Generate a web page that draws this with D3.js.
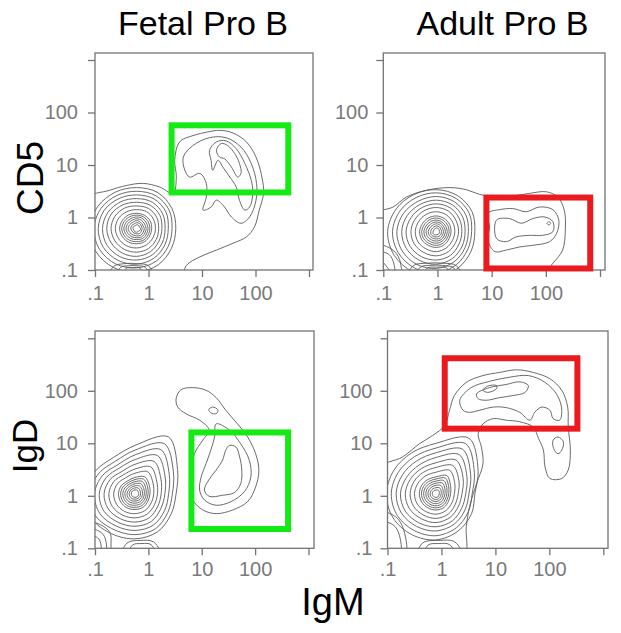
<!DOCTYPE html>
<html><head><meta charset="utf-8">
<script src="https://cdn.jsdelivr.net/npm/d3@7"></script>
<style>html,body{margin:0;padding:0;background:#fff}</style>
</head><body>
<svg id="chart" width="621" height="633"></svg>
<script>
// ================= DATA =================
const columnTitles = ["Fetal Pro B", "Adult Pro B"];
const rowMarkers = ["CD5", "IgD"];
const xMarker = "IgM";
const tickValues = [0.1, 1, 10, 100, 1000];
const tickLabels = [".1", "1", "10", "100", ""];

// gates per panel (order: Fetal CD5, Adult CD5, Fetal IgD, Adult IgD), raw units
const gateIgM    = [[2.7, 410], [8.0, 660], [6.4, 414], [1.15, 331]];
const gateMarker = [[3.0, 57], [0.107, 2.4], [0.233, 16.1], [19, 417]];

// main (IgM-) population: centre in log10 units, contour radii (decades) at 12 evenly spaced angles
const clusterCenter = [[-0.22, -0.21], [-0.02, -0.27], [-0.25, 0.04], [-0.10, 0.04]];
const ringsFetalCD5 = [
  [0.07,0.06,0.07,0.07,0.06,0.07,0.07,0.06,0.07,0.07,0.06,0.07],
  [0.10,0.10,0.11,0.11,0.10,0.11,0.11,0.10,0.10,0.10,0.11,0.10],
  [0.14,0.13,0.14,0.15,0.14,0.15,0.16,0.15,0.14,0.14,0.15,0.14],
  [0.175,0.17,0.18,0.185,0.18,0.19,0.20,0.19,0.18,0.175,0.185,0.175],
  [0.21,0.21,0.22,0.22,0.22,0.23,0.24,0.23,0.22,0.21,0.22,0.21],
  [0.245,0.25,0.255,0.255,0.26,0.27,0.28,0.27,0.26,0.25,0.255,0.245],
  [0.28,0.29,0.29,0.29,0.30,0.31,0.32,0.31,0.30,0.29,0.29,0.28],
  [0.35,0.36,0.37,0.36,0.37,0.39,0.40,0.39,0.38,0.37,0.36,0.35],
  [0.41,0.43,0.44,0.43,0.45,0.47,0.48,0.47,0.46,0.45,0.44,0.42],
  [0.47,0.50,0.51,0.50,0.52,0.55,0.56,0.55,0.54,0.53,0.51,0.48],
  [0.53,0.56,0.58,0.57,0.59,0.62,0.64,0.64,0.62,0.60,0.58,0.55],
  [0.59,0.63,0.65,0.64,0.66,0.70,0.72,0.72,0.70,0.68,0.65,0.61],
  [0.66,0.70,0.72,0.71,0.73,0.77,0.80,0.80,0.78,0.75,0.72,0.68],
  [0.73,0.76,0.79,0.78,0.80,0.84,0.88,0.88,0.86,0.83,0.80,0.75]
];
const ringsAdultCD5 = [
  [0.06,0.06,0.07,0.07,0.06,0.06,0.06,0.07,0.07,0.06,0.06,0.06],
  [0.095,0.095,0.105,0.11,0.10,0.10,0.105,0.11,0.105,0.10,0.10,0.095],
  [0.13,0.13,0.14,0.15,0.14,0.14,0.15,0.15,0.14,0.14,0.14,0.13],
  [0.165,0.165,0.175,0.185,0.18,0.18,0.19,0.19,0.18,0.18,0.175,0.165],
  [0.20,0.20,0.21,0.22,0.22,0.22,0.23,0.23,0.22,0.22,0.21,0.20],
  [0.235,0.24,0.25,0.26,0.26,0.26,0.27,0.27,0.26,0.26,0.25,0.235],
  [0.27,0.28,0.29,0.30,0.30,0.30,0.31,0.31,0.30,0.30,0.29,0.27],
  [0.34,0.35,0.37,0.38,0.38,0.38,0.39,0.39,0.38,0.38,0.36,0.34],
  [0.41,0.42,0.45,0.46,0.46,0.46,0.47,0.47,0.46,0.46,0.44,0.41],
  [0.47,0.49,0.52,0.53,0.53,0.54,0.56,0.56,0.55,0.54,0.52,0.48],
  [0.53,0.56,0.59,0.60,0.60,0.62,0.64,0.64,0.63,0.62,0.59,0.55],
  [0.59,0.63,0.66,0.67,0.67,0.70,0.73,0.73,0.72,0.70,0.66,0.61],
  [0.65,0.70,0.73,0.74,0.75,0.78,0.81,0.81,0.80,0.78,0.73,0.67],
  [0.71,0.76,0.79,0.80,0.82,0.86,0.90,0.90,0.88,0.86,0.80,0.74]
];
const ringsFetalIgD = [
  [0.07,0.07,0.08,0.07,0.07,0.07,0.07,0.07,0.07,0.07,0.07,0.07],
  [0.105,0.11,0.125,0.11,0.105,0.105,0.11,0.11,0.11,0.105,0.105,0.105],
  [0.14,0.15,0.17,0.15,0.14,0.14,0.15,0.15,0.15,0.14,0.14,0.14],
  [0.175,0.19,0.22,0.19,0.175,0.18,0.19,0.19,0.19,0.18,0.18,0.175],
  [0.21,0.23,0.27,0.23,0.21,0.22,0.23,0.23,0.23,0.22,0.22,0.21],
  [0.245,0.27,0.32,0.27,0.245,0.26,0.27,0.27,0.27,0.26,0.26,0.245],
  [0.28,0.31,0.37,0.31,0.28,0.30,0.31,0.31,0.31,0.30,0.30,0.28],
  [0.35,0.39,0.48,0.39,0.35,0.38,0.40,0.40,0.39,0.38,0.37,0.35],
  [0.42,0.47,0.59,0.47,0.42,0.46,0.49,0.49,0.47,0.46,0.45,0.42],
  [0.49,0.56,0.71,0.56,0.49,0.54,0.58,0.58,0.55,0.54,0.53,0.49],
  [0.56,0.65,0.84,0.65,0.57,0.62,0.67,0.67,0.63,0.62,0.61,0.56],
  [0.63,0.74,0.97,0.74,0.64,0.70,0.76,0.76,0.71,0.70,0.69,0.64],
  [0.70,0.83,1.10,0.83,0.72,0.78,0.85,0.85,0.79,0.78,0.77,0.71],
  [0.77,0.92,1.25,0.92,0.80,0.86,0.94,0.94,0.88,0.86,0.84,0.78]
];
const ringsAdultIgD = [
  [0.06,0.07,0.08,0.07,0.07,0.07,0.07,0.07,0.07,0.07,0.07,0.06],
  [0.095,0.11,0.13,0.115,0.11,0.11,0.11,0.11,0.11,0.11,0.105,0.095],
  [0.13,0.15,0.18,0.16,0.15,0.15,0.15,0.15,0.15,0.15,0.14,0.13],
  [0.165,0.19,0.235,0.20,0.19,0.19,0.19,0.19,0.19,0.19,0.18,0.165],
  [0.20,0.23,0.29,0.24,0.23,0.23,0.23,0.23,0.23,0.23,0.22,0.20],
  [0.235,0.27,0.345,0.28,0.27,0.27,0.27,0.27,0.27,0.27,0.26,0.235],
  [0.27,0.31,0.40,0.32,0.31,0.31,0.31,0.31,0.31,0.31,0.30,0.27],
  [0.34,0.40,0.51,0.41,0.39,0.39,0.40,0.40,0.39,0.39,0.37,0.34],
  [0.41,0.49,0.62,0.50,0.47,0.47,0.48,0.48,0.47,0.47,0.45,0.41],
  [0.48,0.58,0.74,0.59,0.55,0.55,0.57,0.57,0.55,0.55,0.52,0.48],
  [0.55,0.66,0.86,0.69,0.63,0.63,0.66,0.66,0.64,0.63,0.60,0.55],
  [0.61,0.74,0.98,0.78,0.72,0.72,0.74,0.74,0.72,0.71,0.67,0.62],
  [0.67,0.82,1.10,0.87,0.81,0.81,0.83,0.83,0.81,0.80,0.75,0.69],
  [0.72,0.90,1.22,0.96,0.90,0.90,0.92,0.92,0.90,0.88,0.82,0.76]
];

// other contours, closed outlines as [log10 IgM, log10 marker] points
const contoursFetalCD5 = [
  [[-1.2,0.33],[-0.72,0.52],[-0.41,0.61],[-0.10,0.65],[0.21,0.58],[0.46,0.46],[0.52,0.77],[0.49,1.09],[0.58,1.44],[0.83,1.56],[1.11,1.63],[1.33,1.66],[1.58,1.61],[1.83,1.44],[2.01,1.15],[2.12,0.77],[2.15,0.46],[2.07,0.14],[1.98,-0.18],[1.83,-0.37],[1.58,-0.49],[1.27,-0.62],[0.96,-0.75],[0.71,-0.91],[0.58,-1.2],[-1.2,-1.2]],
  [[0.65,1.15],[0.83,1.37],[1.14,1.52],[1.45,1.52],[1.73,1.34],[1.92,1.03],[2.02,0.65],[2.01,0.33],[1.89,0.01],[1.73,-0.11],[1.55,0.01],[1.42,0.20],[1.27,0.33],[1.17,0.20],[1.02,0.14],[1.08,0.39],[1.08,0.65],[0.96,0.84],[0.77,0.77],[0.68,0.90]],
  [[1.14,1.28],[1.27,1.44],[1.45,1.46],[1.64,1.31],[1.80,1.03],[1.92,0.71],[1.95,0.46],[1.89,0.20],[1.80,0.14],[1.70,0.33],[1.64,0.58],[1.52,0.77],[1.39,0.96],[1.30,1.09],[1.20,0.90],[1.17,1.09]],
  [[1.27,1.28],[1.36,1.41],[1.48,1.37],[1.61,1.22],[1.70,1.03],[1.73,0.84],[1.67,0.77],[1.55,0.96],[1.42,1.12],[1.33,1.15]],
  [[-0.75,-1.2],[-0.65,-0.93],[-0.45,-0.88],[-0.2,-0.88],[0.0,-0.92],[0.1,-1.2]],
  [[-0.62,-1.2],[-0.52,-0.95],[-0.38,-0.92],[-0.2,-0.92],[-0.06,-0.95],[0.0,-1.2]],
  [[-0.5,-1.2],[-0.42,-0.97],[-0.3,-0.955],[-0.16,-0.965],[-0.1,-1.2]]
];
const contoursAdultCD5 = [
  [[-1.2,0.04],[-0.82,0.20],[-0.57,0.39],[-0.20,0.52],[0.23,0.57],[0.53,0.53],[0.78,0.44],[1.09,0.39],[1.39,0.41],[1.70,0.46],[2.01,0.49],[2.22,0.39],[2.34,0.14],[2.36,-0.24],[2.31,-0.62],[2.13,-0.87],[1.82,-1.2],[-1.2,-1.2]],
  [[0.93,0.08],[1.15,0.15],[1.39,0.17],[1.64,0.11],[1.88,0.20],[2.13,0.15],[2.24,-0.05],[2.20,-0.30],[2.07,-0.46],[1.76,-0.53],[1.52,-0.56],[1.27,-0.62],[1.06,-0.65],[0.93,-0.43],[0.96,-0.18]],
  [[1.09,-0.05],[1.33,-0.02],[1.55,-0.11],[1.76,-0.02],[1.98,0.01],[2.13,-0.08],[2.13,-0.27],[1.94,-0.34],[1.70,-0.34],[1.45,-0.37],[1.27,-0.46],[1.09,-0.40]],
  [[2.02,-0.11],[2.055,-0.08],[2.09,-0.11],[2.055,-0.14]],
  [[-0.55,-1.2],[-0.45,-0.92],[-0.2,-0.87],[0.1,-0.87],[0.35,-0.92],[0.45,-1.2]],
  [[-0.42,-1.2],[-0.32,-0.95],[-0.1,-0.91],[0.15,-0.92],[0.3,-0.96],[0.35,-1.2]],
  [[-0.3,-1.2],[-0.2,-0.97],[0.0,-0.945],[0.18,-0.97],[0.25,-1.2]],
  [[-1.2,-0.5],[-0.85,-0.6],[-0.7,-0.8],[-0.68,-1.2]],
  [[-1.2,-0.65],[-0.9,-0.7],[-0.8,-0.9],[-0.8,-1.2]]
];
const contoursFetalIgD = [
  [[0.52,1.85],[0.61,2.02],[0.83,2.06],[1.08,2.01],[1.27,1.87],[1.45,1.63],[1.67,1.37],[1.86,1.12],[2.01,0.80],[2.07,0.49],[2.01,0.17],[1.86,-0.11],[1.58,-0.27],[1.27,-0.34],[1.02,-0.27],[0.83,-0.08],[0.77,0.17],[0.80,0.49],[0.86,0.80],[1.02,1.06],[1.14,1.25],[0.96,1.44],[0.71,1.56],[0.55,1.69]],
  [[1.27,1.37],[1.52,1.25],[1.73,0.99],[1.89,0.68],[1.92,0.36],[1.80,0.08],[1.55,-0.11],[1.27,-0.18],[1.05,-0.08],[0.96,0.11],[0.99,0.36],[1.08,0.61],[1.17,0.87],[1.24,1.12]],
  [[1.52,0.96],[1.64,0.93],[1.71,0.74],[1.75,0.49],[1.73,0.23],[1.61,0.06],[1.39,0.01],[1.14,-0.01],[1.05,0.11],[1.13,0.30],[1.27,0.49],[1.39,0.68],[1.45,0.87]],
  [[1.13,1.64],[1.20,1.69],[1.30,1.64],[1.28,1.57],[1.19,1.57]],
  [[-1.2,-0.5],[-0.9,-0.55],[-0.72,-0.7],[-0.7,-0.9],[-0.75,-1.2],[-1.2,-1.2]],
  [[-1.2,-0.62],[-0.95,-0.66],[-0.82,-0.78],[-0.82,-1.2],[-1.2,-1.2]],
  [[-1.2,-0.75],[-0.98,-0.78],[-0.9,-0.88],[-0.92,-1.2],[-1.2,-1.2]],
  [[-0.5,-1.2],[-0.4,-0.9],[-0.15,-0.85],[0.1,-0.88],[0.25,-1.2]],
  [[-0.38,-1.2],[-0.3,-0.94],[-0.12,-0.91],[0.05,-0.93],[0.15,-1.2]]
];
const contoursAdultIgD = [
  [[-1.2,0.49],[-0.72,0.74],[-0.41,0.99],[-0.16,1.15],[0.06,1.34],[0.15,1.63],[0.24,1.91],[0.46,2.16],[0.77,2.29],[1.08,2.35],[1.39,2.40],[1.70,2.35],[2.01,2.23],[2.23,2.01],[2.34,1.69],[2.35,1.31],[2.39,0.87],[2.35,0.49],[2.23,0.33],[2.01,0.33],[1.92,0.55],[1.89,0.87],[1.80,1.09],[1.70,1.31],[1.45,1.41],[1.20,1.44],[0.96,1.47],[0.77,1.37],[0.68,1.18],[0.74,0.93],[0.77,0.61],[0.65,0.23],[0.52,-0.21],[0.46,-0.59],[0.40,-1.2],[-1.2,-1.2]],
  [[0.34,1.82],[0.55,2.06],[0.89,2.18],[1.27,2.26],[1.61,2.29],[1.92,2.16],[2.15,1.91],[2.23,1.63],[2.19,1.44],[2.07,1.47],[2.01,1.63],[1.86,1.69],[1.73,1.59],[1.64,1.44],[1.45,1.59],[1.20,1.68],[0.96,1.69],[0.71,1.63],[0.52,1.59],[0.40,1.63]],
  [[0.65,1.94],[0.89,2.06],[1.20,2.12],[1.45,2.17],[1.61,2.10],[1.55,1.97],[1.33,1.91],[1.08,1.87],[0.83,1.82],[0.68,1.85]],
  [[0.77,2.01],[0.86,2.09],[1.02,2.10],[1.02,2.04],[0.86,1.97]],
  [[2.07,1.06],[2.16,1.12],[2.26,1.03],[2.23,0.87],[2.16,0.80],[2.08,0.90]],
  [[-1.2,-0.3],[-0.85,-0.4],[-0.7,-0.65],[-0.68,-1.2],[-1.2,-1.2]],
  [[-1.2,-0.5],[-0.9,-0.55],[-0.78,-0.75],[-0.78,-1.2],[-1.2,-1.2]],
  [[-0.45,-1.2],[-0.35,-0.9],[-0.05,-0.85],[0.25,-0.88],[0.4,-1.2]],
  [[-0.32,-1.2],[-0.25,-0.94],[-0.05,-0.91],[0.15,-0.93],[0.28,-1.2]]
];

const clusterRings = [ringsFetalCD5, ringsAdultCD5, ringsFetalIgD, ringsAdultIgD];
const otherContours = [contoursFetalCD5, contoursAdultCD5, contoursFetalIgD, contoursAdultIgD];

// ================= LAYOUT / STYLE =================
const layout = [
  {l: 95,    r: 313, t: 53,  b: 270,   x0: 95,    x3: 309,   y0: 270,   y3: 60,    padY: 10, padX: 9},
  {l: 383.3, r: 605, t: 53,  b: 270,   x0: 383.3, x3: 600,   y0: 270,   y3: 60,    padY: 8,  padX: 9},
  {l: 95,    r: 314, t: 331, b: 548.3, x0: 95,    x3: 308.5, y0: 548.3, y3: 338.3, padY: 10, padX: 7},
  {l: 387.5, r: 608, t: 331, b: 548.3, x0: 387.5, x3: 603.3, y0: 548.3, y3: 338.3, padY: 8,  padX: 7}
];
const gateColors = ["#14ea14", "#ea1a1f", "#14ea14", "#ea1a1f"];
const contourColor = "#5a5a5a";
const axisColor = "#737373";
const fontFamily = "'Liberation Sans', Arial, Helvetica, sans-serif";

const svg = d3.select("#chart");
svg.append("rect").attr("width", 621).attr("height", 633).attr("fill", "#fff");
const defs = svg.append("defs");

layout.forEach((L, i) => {
  const x = d3.scaleLog().domain([0.1, 1000]).range([L.x0, L.x3]);
  const y = d3.scaleLog().domain([0.1, 1000]).range([L.y0, L.y3]);
  const line = d3.line()
    .x(p => x(Math.pow(10, p[0])))
    .y(p => y(Math.pow(10, p[1])))
    .curve(d3.curveCatmullRomClosed.alpha(0.5));

  defs.append("clipPath").attr("id", "clip" + i)
    .append("rect").attr("x", L.l).attr("y", L.t).attr("width", L.r - L.l).attr("height", L.b - L.t);

  const g = svg.append("g");
  const cg = g.append("g").attr("clip-path", `url(#clip${i})`);

  const c = clusterCenter[i];
  clusterRings[i].forEach(radii => {
    const n = radii.length;
    const pts = radii.map((r, k) => [c[0] + r * Math.cos(2 * Math.PI * k / n), c[1] + r * Math.sin(2 * Math.PI * k / n)]);
    cg.append("path").attr("d", line(pts)).attr("fill", "none")
      .attr("stroke", contourColor).attr("stroke-width", 0.9);
  });
  otherContours[i].forEach(pts => {
    cg.append("path").attr("d", line(pts)).attr("fill", "none")
      .attr("stroke", contourColor).attr("stroke-width", 0.9);
  });

  // frame
  g.append("rect").attr("x", L.l).attr("y", L.t).attr("width", L.r - L.l).attr("height", L.b - L.t)
    .attr("fill", "none").attr("stroke", axisColor).attr("stroke-width", 1.3);

  // axes
  const ay = g.append("g").attr("transform", `translate(${L.l},0)`)
    .call(d3.axisLeft(y).tickValues(tickValues).tickFormat((d, k) => tickLabels[k]).tickSize(7).tickPadding(L.padY));
  const ax = g.append("g").attr("transform", `translate(0,${L.b})`)
    .call(d3.axisBottom(x).tickValues(tickValues).tickFormat((d, k) => tickLabels[k]).tickSize(7).tickPadding(L.padX));
  [ax, ay].forEach(a => {
    a.select(".domain").remove();
    a.selectAll(".tick line").attr("stroke", axisColor).attr("stroke-width", 1.3);
    a.selectAll(".tick text").attr("fill", "#7a7a7a").style("font-size", "20px").style("font-family", fontFamily);
  });

  // gate
  const gx = gateIgM[i], gy = gateMarker[i];
  g.append("rect")
    .attr("x", x(gx[0])).attr("y", y(gy[1]))
    .attr("width", x(gx[1]) - x(gx[0])).attr("height", y(gy[0]) - y(gy[1]))
    .attr("fill", "none").attr("stroke", gateColors[i]).attr("stroke-width", 6);
});

// titles and axis names
const titleX = [203, 502.5];
columnTitles.forEach((t, k) => {
  svg.append("text").attr("x", titleX[k]).attr("y", 35).attr("text-anchor", "middle")
    .style("font-family", fontFamily).style("font-size", "34px").attr("fill", "#000").text(t);
});
const rowPos = [[43, 178, 37], [37, 446, 35]];
rowMarkers.forEach((t, k) => {
  const [bx, cy, fs] = rowPos[k];
  svg.append("text").attr("transform", `translate(${bx},${cy}) rotate(-90)`).attr("text-anchor", "middle")
    .style("font-family", fontFamily).style("font-size", fs + "px").attr("fill", "#000").text(t);
});
svg.append("text").attr("x", 333).attr("y", 615).attr("text-anchor", "middle")
  .style("font-family", fontFamily).style("font-size", "38px").attr("fill", "#000").text(xMarker);
</script>
</body></html>
